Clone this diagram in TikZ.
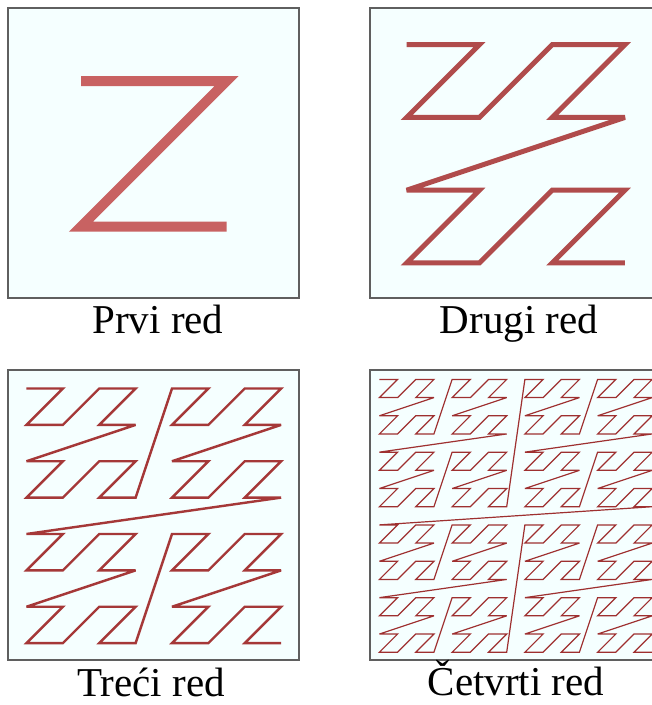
\documentclass[tikz,border=0pt]{standalone}
\usepackage{fontspec}
\setmainfont{Liberation Serif}
\usepackage{xcolor}

\definecolor{panelbg}{RGB}{245,255,255}
\definecolor{frame}{RGB}{95,95,95}
\definecolor{zredA}{RGB}{200,98,98}
\definecolor{zredB}{RGB}{176,76,76}
\definecolor{zredC}{RGB}{165,56,56}
\definecolor{zredD}{RGB}{158,48,48}

\begin{document}
\begin{tikzpicture}[
    x=1pt, y=-1pt,
    panel/.style={draw=frame, fill=panelbg, line width=1.8pt},
    zline/.style={line join=miter, miter limit=4, line cap=butt},
    caption/.style={anchor=base, font=\fontsize{41}{48}\selectfont},
    declare function={
      zx(\i)=mod(\i,2)+2*mod(int(\i/4),2)+4*mod(int(\i/16),2)+8*mod(int(\i/64),2);
      zy(\i)=mod(int(\i/2),2)+2*mod(int(\i/8),2)+4*mod(int(\i/32),2)+8*mod(int(\i/128),2);
    }
]
\useasboundingbox (0,0) rectangle (652,705);
\clip (0,0) rectangle (652,705);

% one panel per order of the curve
\foreach \n/\ox/\oy/\lw/\col in {1/8.3/8.3/10pt/zredA, 2/370.3/8.3/5pt/zredB,
                                 3/8.3/370.3/2.4pt/zredC, 4/370.3/370.3/1.2pt/zredD}{
  \pgfmathsetmacro{\cell}{291/2^\n}
  \pgfmathtruncatemacro{\last}{4^\n-1}
  \draw[panel] (\ox,\oy) rectangle ++(291,290);
  \draw[zline, draw=\col, line width=\lw] ({\ox+\cell/2},{\oy+\cell/2})
    \foreach \i in {1,...,\last}{ -- ({\ox+(zx(\i)+.5)*\cell},{\oy+(zy(\i)+.5)*\cell}) };
}

\node[caption] (cap1) at (158,333) {Prvi red};
\node[caption] (cap2) at (519,333) {Drugi red};
\node[caption] (cap3) at (151,696) {Treći red};
\node[caption] (cap4) at (516,695) {Četvrti red};
\end{tikzpicture}
\end{document}
